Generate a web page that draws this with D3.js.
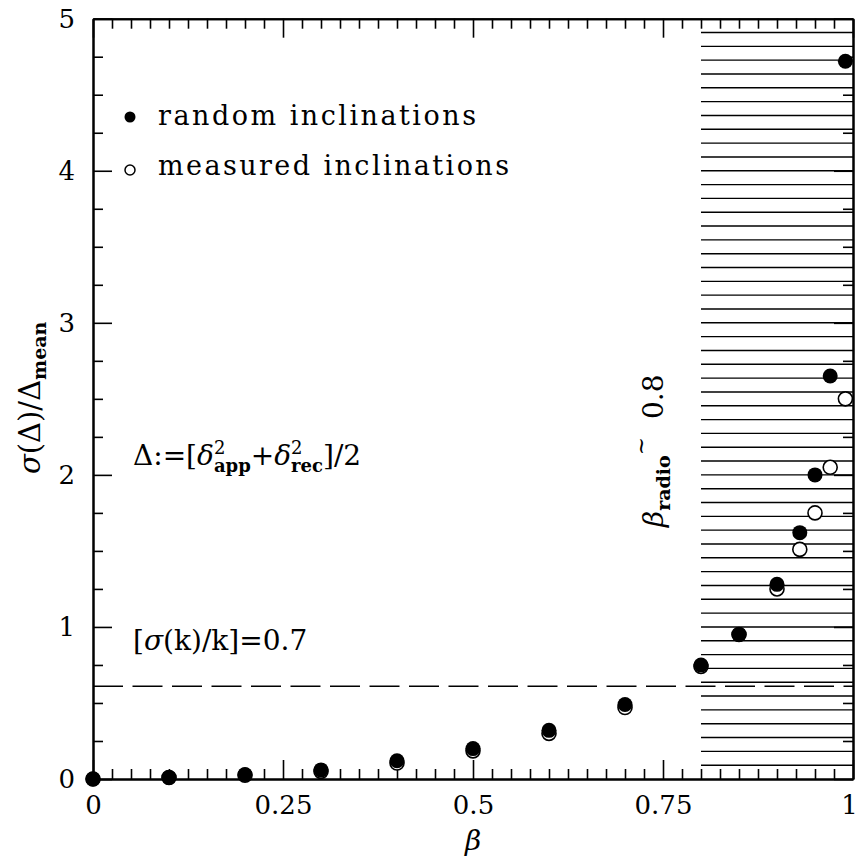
<!DOCTYPE html>
<html>
<head>
<meta charset="utf-8">
<script src="https://cdn.jsdelivr.net/npm/d3@7"></script>
<style>
  body { margin: 0; background: #fff; }
  text { font-family: "DejaVu Serif", serif; fill: #000; white-space: pre; }
</style>
</head>
<body>
<div id="chart"></div>
<script>
// values
const beta = [0, 0.1, 0.2, 0.3, 0.4, 0.5, 0.6, 0.7, 0.8, 0.85, 0.9, 0.93, 0.95, 0.97, 0.99];
const randomIncl = [0, 0.01, 0.03, 0.06, 0.12, 0.2, 0.32, 0.49, 0.75, 0.95, 1.28, 1.62, 2.0, 2.65, 4.72];
const measuredIncl = [0, 0.01, 0.025, 0.05, 0.105, 0.185, 0.3, 0.47, 0.74, 0.95, 1.25, 1.51, 1.75, 2.05, 2.5];
const xTicks = [0, 0.25, 0.5, 0.75, 1];
const xTickLabels = ["0", "0.25", "0.5", "0.75", "1"];
const yTicks = [0, 1, 2, 3, 4, 5];
const yTickLabels = ["0", "1", "2", "3", "4", "5"];
const dashedLevel = 0.61;   // [sigma(k)/k]=0.7
const hatchFrom = 0.8;      // beta_radio

const width = 857, height = 858;
const margin = {top: 18.7, right: 4, bottom: 79, left: 93};

const x = d3.scaleLinear().domain([0, 1]).range([margin.left, width - margin.right]);
const y = d3.scaleLinear().domain([0, 5]).range([height - margin.bottom, margin.top]);

const svg = d3.select("#chart").append("svg")
    .attr("width", width)
    .attr("height", height);

const yBottom = y(0), yTop = y(5), xLeft = x(0), xRight = x(1);

// hatched area beyond beta_radio
const hatchN = 55;
const hatchY = d3.range(1, hatchN).map(k => yTop + k * (yBottom - yTop) / hatchN);
svg.append("g")
  .selectAll("line")
  .data(hatchY)
  .join("line")
    .attr("x1", x(hatchFrom))
    .attr("x2", xRight)
    .attr("y1", d => d)
    .attr("y2", d => d)
    .attr("stroke", "#000")
    .attr("stroke-width", 1.4);

// dashed line
svg.append("line")
    .attr("x1", xLeft).attr("x2", xRight)
    .attr("y1", y(dashedLevel)).attr("y2", y(dashedLevel))
    .attr("stroke", "#000")
    .attr("stroke-width", 1.5)
    .attr("stroke-dasharray", "30,9.5");

// axes: major + minor ticks on all four sides, ticks pointing inward
const xMinor = d3.range(0, 1.0001, 0.025).filter(v => !xTicks.some(t => Math.abs(t - v) < 1e-6));
const yMinor = d3.range(0, 5.0001, 0.25).filter(v => !yTicks.some(t => Math.abs(t - v) < 1e-6));

function styleAxis(g) {
  g.selectAll(".domain").attr("stroke-width", 2);
  g.selectAll(".tick line").attr("stroke-width", 1.6);
  g.selectAll(".tick text").style("font-family", "DejaVu Serif").attr("font-size", 26).attr("fill", "#000");
}

svg.append("g").attr("transform", `translate(0,${yBottom})`)
  .call(d3.axisBottom(x).tickValues(xTicks).tickFormat((d, i) => xTickLabels[i]).tickSize(-19).tickSizeOuter(0).tickPadding(17))
  .call(styleAxis)
  .call(g => g.selectAll(".tick text").filter(d => d === 1).attr("dx", -4));
svg.append("g").attr("transform", `translate(0,${yBottom})`)
  .call(d3.axisBottom(x).tickValues(xMinor).tickFormat("").tickSize(-10).tickSizeOuter(0))
  .call(styleAxis);
svg.append("g").attr("transform", `translate(0,${yTop})`)
  .call(d3.axisTop(x).tickValues(xTicks).tickFormat("").tickSize(-19).tickSizeOuter(0))
  .call(styleAxis);
svg.append("g").attr("transform", `translate(0,${yTop})`)
  .call(d3.axisTop(x).tickValues(xMinor).tickFormat("").tickSize(-10).tickSizeOuter(0))
  .call(styleAxis);

svg.append("g").attr("transform", `translate(${xLeft},0)`)
  .call(d3.axisLeft(y).tickValues(yTicks).tickFormat((d, i) => yTickLabels[i]).tickSize(-19).tickSizeOuter(0).tickPadding(18))
  .call(styleAxis);
svg.append("g").attr("transform", `translate(${xLeft},0)`)
  .call(d3.axisLeft(y).tickValues(yMinor).tickFormat("").tickSize(-10).tickSizeOuter(0))
  .call(styleAxis);
svg.append("g").attr("transform", `translate(${xRight},0)`)
  .call(d3.axisRight(y).tickValues(yTicks).tickFormat("").tickSize(-19).tickSizeOuter(0))
  .call(styleAxis);
svg.append("g").attr("transform", `translate(${xRight},0)`)
  .call(d3.axisRight(y).tickValues(yMinor).tickFormat("").tickSize(-10).tickSizeOuter(0))
  .call(styleAxis);

// points: open (measured) below, filled (random) on top
const pts = svg.append("g");
pts.selectAll(".open")
  .data(beta.map((b, i) => [b, measuredIncl[i]]))
  .join("circle")
    .attr("class", "open")
    .attr("cx", d => x(d[0]))
    .attr("cy", d => y(d[1]))
    .attr("r", 7)
    .attr("fill", "#fff")
    .attr("stroke", "#000")
    .attr("stroke-width", 1.6);
pts.selectAll(".filled")
  .data(beta.map((b, i) => [b, randomIncl[i]]))
  .join("circle")
    .attr("class", "filled")
    .attr("cx", d => x(d[0]))
    .attr("cy", d => y(d[1]))
    .attr("r", 7.5)
    .attr("fill", "#000");

// one text element built from tspans (sub/superscripts); "stack" puts the
// next piece back under the previous one
function rich(x0, y0, parts, rotate) {
  const t = svg.append("text")
      .attr("transform", `translate(${x0},${y0})` + (rotate ? ` rotate(${rotate})` : ""));
  let shift = 0, back = 0;
  parts.forEach(p => {
    const dy = (p.dy || 0) - shift;
    shift = p.dy || 0;
    const s = t.append("tspan")
        .attr("dy", dy)
        .attr("dx", -back)
        .attr("font-size", p.size)
        .attr("font-style", p.italic ? "italic" : null)
        .attr("font-weight", p.bold ? "bold" : null)
        .text(p.t);
    back = p.stack ? s.node().getComputedTextLength() : 0;
  });
  return t;
}

// legend
svg.append("circle").attr("cx", 130).attr("cy", 117).attr("r", 5.5).attr("fill", "#000");
svg.append("circle").attr("cx", 130).attr("cy", 170).attr("r", 5).attr("fill", "#fff")
    .attr("stroke", "#000").attr("stroke-width", 1.5);
svg.append("text").attr("x", 158).attr("y", 125).attr("font-size", 27)
    .attr("textLength", 318).attr("lengthAdjust", "spacing").text("random inclinations");
svg.append("text").attr("x", 158).attr("y", 175).attr("font-size", 27)
    .attr("textLength", 351).attr("lengthAdjust", "spacing").text("measured inclinations");

// annotations
rich(133, 465, [
  {t: "Δ:=[", size: 28},
  {t: "δ", size: 28, italic: true},
  {t: "2", size: 18, dy: -11, stack: true},
  {t: "app", size: 18, dy: 7, bold: true},
  {t: "+", size: 28},
  {t: "δ", size: 28, italic: true},
  {t: "2", size: 18, dy: -11, stack: true},
  {t: "rec", size: 18, dy: 7, bold: true},
  {t: "]/2", size: 28}
]);

rich(133, 650, [
  {t: "[", size: 28},
  {t: "σ", size: 28, italic: true},
  {t: "(k)/k]=0.7", size: 28}
]);

rich(663, 527, [
  {t: "β", size: 28, italic: true},
  {t: "radio", size: 19, dy: 7, bold: true},
  {t: "~", size: 22, dy: -15},
  {t: "  0.8", size: 28}
], -90);

// axis titles
rich(40, 474, [
  {t: "σ", size: 29, italic: true},
  {t: "(Δ)/Δ", size: 29},
  {t: "mean", size: 19, dy: 6, bold: true}
], -90);

svg.append("text")
    .attr("x", (xLeft + xRight) / 2)
    .attr("y", 850)
    .attr("text-anchor", "middle")
    .attr("font-size", 28)
    .attr("font-style", "italic")
    .text("β");
</script>
</body>
</html>
